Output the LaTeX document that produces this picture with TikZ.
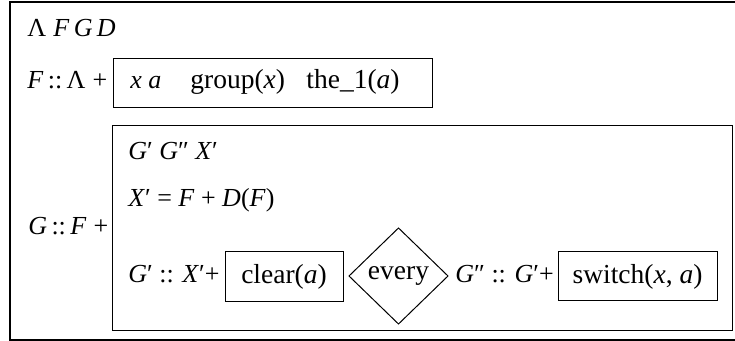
\documentclass[tikz,border=0pt]{standalone}
\usepackage{fontspec}
\setmainfont{Liberation Serif}
\usetikzlibrary{shapes.geometric}
\begin{document}
\begin{tikzpicture}[x=0.5pt,y=-0.5pt,
  txt/.style={font=\fontsize{13}{15}\selectfont},
  wordtxt/.style={font=\fontsize{13.75}{16}\selectfont},
  lbl/.style={txt, anchor=base west, inner sep=0pt},
  wordlbl/.style={wordtxt, anchor=base west, inner sep=0pt},
  boxnode/.style={wordtxt, draw, line width=0.5pt, rectangle, inner sep=0pt, outer sep=0pt},
  framebox/.style={draw, line width=0.6pt, rectangle, inner sep=0pt, outer sep=0pt},
  decide/.style={wordtxt, draw, line width=0.5pt, diamond, inner sep=0pt, outer sep=0pt}]
\useasboundingbox (0,0) rectangle (735,341);
% outer frame
\node[framebox, minimum width=363.5pt, minimum height=169pt] (outer) at (373.5,171) {};
% row 1
\node[lbl] (decl) at (27,37) {Λ\;\textit{F}\,\textit{G}\,\textit{D}};
% row 2
\node[lbl] (flab) at (27,89) {\textit{F}\,::\,Λ\;+};
\node[boxnode, minimum width=159.5pt, minimum height=24.5pt] (fbox) at (272.5,83.5) {};
\node[lbl] (fxa) at (130,89) {\textit{x a}};
\node[wordlbl] (fgroup) at (190,89) {group(\textit{x})};
\node[wordlbl] (fthe) at (306,89) {the\_1(\textit{a})};
% row 3
\node[lbl] (glab) at (28,235) {\textit{G}\,::\,\textit{F}\;+};
\node[framebox, line width=0.5pt, minimum width=310pt, minimum height=102.5pt] (gbox) at (422,228.5) {};
\node[lbl] (gdecl) at (128,160) {\textit{G}′ \textit{G}″ \textit{X}′};
\node[lbl] (gdef) at (128,207) {\textit{X}′ = \textit{F} + \textit{D}(\textit{F})};
\node[lbl] (g1lab) at (128,283) {\textit{G}′ :: \textit{X}′+};
\node[boxnode, minimum width=59pt, minimum height=25pt] (clear) at (284,277) {clear(\textit{a})};
\node[decide, minimum width=49.5pt, minimum height=48pt] (every) at (398.5,276) {every};
\node[lbl] (g2lab) at (455,283) {\textit{G}″ :: \textit{G}′+};
\node[boxnode, minimum width=79.5pt, minimum height=24.5pt] (switch) at (637.5,276.5) {switch(\textit{x}, \textit{a})};
\end{tikzpicture}
\end{document}
